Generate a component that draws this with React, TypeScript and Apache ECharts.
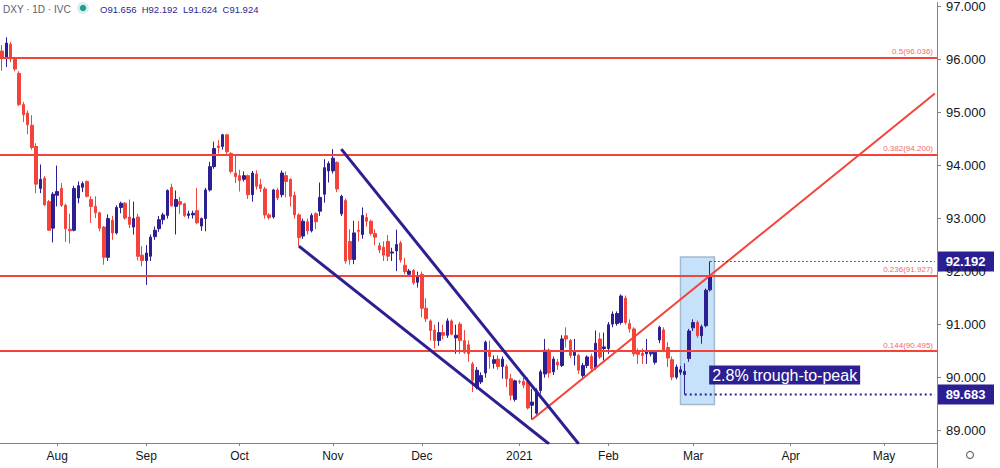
import React, { useEffect, useRef } from 'react';
import * as echarts from 'echarts';

// ---- data ----
const firstDay = '2020-07-15';
const dayCount = 221; // trading days shown on the axis (incl. empty future)

// [open, close, low, high]
const ohlc: number[][] = [
  [96.16, 96.03, 95.79, 96.27], [96.02, 96.31, 95.86, 96.42], [96.29, 96.01, 95.95, 96.33], [96.01, 95.82, 95.78, 96.05],
  [95.74, 95.15, 95.12, 95.78], [95.15, 94.96, 94.82, 95.2], [94.99, 94.77, 94.59, 95.04], [94.76, 94.34, 94.3, 94.95],
  [94.36, 93.65, 93.48, 94.42], [93.57, 93.74, 93.48, 94.02], [93.76, 93.26, 93.24, 93.8], [93.32, 92.78, 92.77, 93.35],
  [92.82, 93.46, 92.55, 93.5], [93.44, 93.51, 93.23, 94.0], [93.57, 93.25, 93.22, 93.67], [93.25, 92.81, 92.56, 93.28],
  [92.8, 92.77, 92.53, 93.09], [92.78, 93.57, 92.76, 93.62], [93.39, 93.62, 93.29, 93.7], [93.59, 93.66, 93.5, 93.7],
  [93.7, 93.42, 93.4, 93.72], [93.36, 93.23, 92.92, 93.42], [93.23, 93.11, 93.01, 93.42], [93.11, 92.82, 92.76, 93.13],
  [92.84, 92.27, 92.13, 92.86], [92.27, 93.0, 92.2, 93.08], [92.97, 92.73, 92.6, 93.05], [92.73, 93.21, 92.7, 93.25],
  [93.21, 93.29, 93.1, 93.32], [93.29, 93.01, 92.98, 93.31], [93.03, 92.89, 92.82, 93.36], [92.84, 93.0, 92.7, 93.32],
  [93.03, 92.29, 92.21, 93.09], [92.31, 92.21, 92.1, 92.48], [92.21, 92.35, 91.75, 92.5], [92.29, 92.65, 92.2, 92.7],
  [92.66, 92.78, 92.6, 92.85], [92.81, 92.98, 92.75, 93.05], [92.98, 93.07, 92.89, 93.11], [93.06, 93.53, 93.0, 93.55],
  [93.59, 93.24, 93.23, 93.66], [93.23, 93.36, 92.7, 93.53], [93.32, 93.27, 93.09, 93.41], [93.28, 93.06, 93.03, 93.3],
  [93.06, 93.09, 93.0, 93.15], [93.07, 93.1, 93.0, 93.15], [93.15, 92.92, 92.89, 93.58], [92.86, 93.0, 92.77, 93.02],
  [93.0, 93.54, 92.76, 93.58], [93.54, 93.98, 93.51, 94.07], [93.98, 94.32, 93.94, 94.45], [94.37, 94.34, 94.23, 94.48],
  [94.36, 94.58, 94.3, 94.6], [94.58, 94.26, 94.22, 94.6], [94.23, 93.89, 93.85, 94.25], [93.86, 93.79, 93.67, 94.2],
  [93.81, 93.72, 93.51, 93.92], [93.74, 93.81, 93.7, 93.89], [93.81, 93.45, 93.37, 93.83], [93.45, 93.86, 93.32, 93.9],
  [93.84, 93.61, 93.55, 93.91], [93.64, 93.57, 93.5, 93.75], [93.56, 93.07, 93.0, 93.6], [93.07, 93.02, 92.98, 93.1],
  [93.03, 93.54, 93.0, 93.56], [93.54, 93.39, 93.35, 93.58], [93.45, 93.86, 93.4, 93.91], [93.81, 93.7, 93.4, 93.89],
  [93.74, 93.42, 93.23, 93.76], [93.44, 93.07, 93.0, 93.51], [93.07, 92.64, 92.48, 93.1], [92.67, 92.95, 92.62, 93.0],
  [92.94, 92.77, 92.7, 93.0], [92.77, 93.06, 92.74, 93.1], [93.09, 92.94, 92.8, 93.12], [93.14, 93.4, 93.05, 93.68],
  [93.46, 93.96, 93.3, 94.12], [93.9, 94.04, 93.68, 94.08], [93.9, 94.14, 93.85, 94.31], [94.06, 93.56, 93.5, 94.08],
  [93.09, 93.42, 93.05, 93.45], [93.34, 92.2, 92.15, 93.38], [92.57, 92.23, 92.13, 92.8], [92.23, 92.73, 92.14, 92.96],
  [92.78, 92.76, 92.57, 92.95], [92.7, 93.06, 92.62, 93.21], [93.02, 92.95, 92.85, 93.1], [92.95, 92.72, 92.68, 92.98],
  [92.72, 92.65, 92.5, 92.8], [92.49, 92.41, 92.35, 92.55], [92.46, 92.31, 92.2, 92.57], [92.57, 92.29, 92.2, 92.69],
  [92.35, 92.37, 92.2, 92.45], [92.39, 92.51, 92.01, 92.79], [92.54, 92.22, 92.17, 92.58], [92.12, 92.0, 91.95, 92.26],
  [91.95, 92.01, 91.9, 92.05], [92.02, 91.79, 91.75, 92.05], [91.8, 91.9, 91.7, 92.0], [91.95, 91.31, 91.14, 92.0],
  [91.31, 91.11, 91.05, 91.5], [91.07, 90.89, 90.7, 91.1], [90.9, 90.7, 90.55, 91.0], [90.7, 90.85, 90.6, 91.05],
  [90.85, 90.8, 90.72, 91.0], [90.8, 91.07, 90.75, 91.12], [91.07, 90.82, 90.8, 91.1], [90.75, 90.8, 90.45, 91.0],
  [91.01, 90.7, 90.45, 91.05], [90.7, 90.48, 90.45, 90.9], [90.62, 90.45, 90.3, 90.7], [90.26, 89.95, 89.73, 90.3],
  [89.82, 90.14, 89.78, 90.2], [89.92, 90.04, 89.88, 90.1], [90.09, 90.67, 90.0, 90.7], [90.52, 90.4, 90.17, 90.7],
  [90.27, 90.34, 90.17, 90.42], [90.35, 90.21, 90.15, 90.42], [90.21, 90.35, 89.98, 90.4], [90.21, 89.98, 89.82, 90.25],
  [89.98, 89.67, 89.57, 90.07], [89.59, 89.94, 89.55, 89.96], [89.93, 89.92, 89.88, 89.96], [89.93, 89.86, 89.8, 90.0],
  [89.92, 89.43, 89.4, 90.0], [89.48, 89.54, 89.21, 89.79], [89.33, 89.76, 89.3, 89.8], [89.76, 90.11, 89.7, 90.15],
  [90.07, 90.52, 90.0, 90.73], [90.52, 90.09, 90.0, 90.55], [90.11, 90.35, 90.05, 90.4], [90.29, 90.24, 90.15, 90.35],
  [90.23, 90.73, 90.2, 90.8], [90.79, 90.73, 90.57, 90.95], [90.7, 90.42, 90.37, 90.73], [90.42, 90.48, 90.23, 90.73],
  [90.42, 90.14, 90.07, 90.45], [90.04, 90.23, 90.0, 90.28], [90.23, 90.39, 90.18, 90.42], [90.4, 90.17, 90.12, 90.45],
  [90.19, 90.65, 90.15, 90.89], [90.73, 90.39, 90.35, 90.85], [90.55, 90.58, 90.32, 90.85], [90.55, 91.0, 90.45, 91.05],
  [91.01, 91.2, 90.95, 91.25], [91.02, 91.21, 90.98, 91.25], [91.04, 91.54, 91.0, 91.57], [91.5, 91.04, 91.0, 91.55],
  [91.02, 90.92, 90.85, 91.1], [90.92, 90.45, 90.4, 90.95], [90.51, 90.44, 90.26, 90.55], [90.46, 90.42, 90.26, 90.55],
  [90.45, 90.49, 90.26, 90.73], [90.45, 90.48, 90.4, 90.52], [90.29, 90.48, 90.25, 90.52], [90.71, 90.95, 90.65, 90.98],
  [90.9, 90.51, 90.48, 90.95], [90.57, 90.37, 90.2, 90.67], [90.34, 90.01, 89.95, 90.4], [90.01, 90.2, 89.97, 90.25],
  [90.1, 90.15, 90.05, 90.22], [90.06, 90.12, 89.683, 90.27], [90.36, 90.88, 90.3, 90.92], [90.94, 91.04, 90.88, 91.1],
  [91.04, 90.79, 90.75, 91.08], [90.79, 90.96, 90.64, 91.0], [90.98, 91.65, 90.95, 91.68], [91.656, 91.924, 91.624, 92.192],
];

const tickDates = ['2020-08-03', '2020-09-01', '2020-10-01', '2020-11-02', '2020-12-01', '2021-01-01', '2021-02-01', '2021-03-01', '2021-04-01', '2021-05-03'];
const tickLabels = ['Aug', 'Sep', 'Oct', 'Nov', 'Dec', '2021', 'Feb', 'Mar', 'Apr', 'May'];

const fibRatios = ['0.5', '0.382', '0.236', '0.144'];
const fibLevels = [96.036, 94.2, 91.927, 90.495];

// drawn trend lines: [dateIndex, price]
const upTrend = [[125, 89.21], [220, 95.36]];
const wedgeUpper = [[80, 94.31], [136, 88.75]];
const wedgeLower = [[70, 92.48], [129, 88.75]];

const troughIdx = 161;
const troughPrice = 89.683;
const peakIdx = 167;
const peakPrice = 92.192;
const rangeBox = [[160, 92.275], [168, 89.494]];
const annotation = '2.8% trough-to-peak';
const header = { symbol: 'DXY · 1D · IVC', o: '91.656', h: '92.192', l: '91.624', c: '91.924' };

// ---- styles ----
const NAVY = '#2c1f92';
const RED = '#f4433a';
const AXIS = '#7f8089';
const TEXT = '#131722';

function buildDates(): string[] {
  const out: string[] = [];
  const [y, m, d] = firstDay.split('-').map(Number);
  const t = new Date(Date.UTC(y, m - 1, d));
  while (out.length < dayCount) {
    const wd = t.getUTCDay();
    if (wd !== 0 && wd !== 6) out.push(t.toISOString().slice(0, 10));
    t.setUTCDate(t.getUTCDate() + 1);
  }
  return out;
}

export default function App() {
  const ref = useRef<HTMLDivElement>(null);

  useEffect(() => {
    document.body.style.margin = '0';
    if (!ref.current) return;
    const chart = echarts.init(ref.current, null, { renderer: 'svg' });
    const dates = buildDates();
    const tickIdx = new Map<number, string>();
    tickDates.forEach((d, k) => tickIdx.set(dates.indexOf(d), tickLabels[k]));

    const lineSeries = (data: number[][], color: string, width: number, type: any = 'solid', z = 3, extra: any = {}) => ({
      type: 'line',
      data,
      symbol: 'none',
      silent: true,
      clip: true,
      z,
      lineStyle: { color, width, type },
      ...extra,
    });

    const option: any = {
      animation: false,
      backgroundColor: '#ffffff',
      grid: { left: 0, right: 63, top: 0, bottom: 25, containLabel: false },
      xAxis: {
        type: 'category',
        data: dates,
        boundaryGap: true,
        axisLine: { show: true, lineStyle: { color: AXIS, width: 1 } },
        axisTick: {
          show: true,
          alignWithLabel: true,
          length: 3,
          interval: (i: number) => tickIdx.has(i),
          lineStyle: { color: AXIS },
        },
        axisLabel: {
          interval: (i: number) => tickIdx.has(i),
          formatter: (_v: string, i: number) => tickIdx.get(i) ?? '',
          color: TEXT,
          fontFamily: 'Liberation Sans',
          fontSize: 12,
          margin: 7,
        },
        splitLine: { show: false },
      },
      yAxis: {
        type: 'value',
        position: 'right',
        min: 88.768,
        max: 97.075,
        splitNumber: 8,
        minInterval: 1,
        maxInterval: 1,
        scale: true,
        axisLine: { show: true, lineStyle: { color: AXIS, width: 1 } },
        axisTick: { show: true, length: 4, lineStyle: { color: AXIS } },
        axisLabel: {
          showMinLabel: false,
          showMaxLabel: false,
          formatter: (v: number) => (Math.abs(v - Math.round(v)) < 1e-6 ? v.toFixed(3) : ''),
          color: TEXT,
          fontFamily: 'Liberation Sans',
          fontSize: 13,
          margin: 9,
        },
        splitLine: { show: false },
      },
      series: [
        {
          type: 'candlestick',
          data: ohlc,
          barWidth: 3,
          z: 2,
          itemStyle: { color: NAVY, color0: RED, borderColor: NAVY, borderColor0: RED, borderWidth: 1 },
          markLine: {
            silent: true,
            symbol: ['none', 'none'],
            z: 4,
            lineStyle: { color: RED, width: 2, type: 'solid' },
            label: {
              show: true,
              position: 'insideEndTop',
              distance: [4, 2],
              color: '#f26a6a',
              fontFamily: 'Liberation Sans',
              fontSize: 8,
            },
            data: fibLevels.map((v, k) => ({
              yAxis: v,
              label: { formatter: `${fibRatios[k]}(${v.toFixed(3)})` },
            })),
          },
        },
        lineSeries(upTrend, RED, 2, 'solid', 5),
        lineSeries(wedgeUpper, NAVY, 3, 'solid', 5),
        lineSeries(wedgeLower, NAVY, 3, 'solid', 5),
        lineSeries([[peakIdx, peakPrice], [dayCount - 1, peakPrice]], NAVY, 1, [1.5, 2.5], 6),
        lineSeries([[troughIdx, troughPrice], [dayCount - 1, troughPrice]], NAVY, 2, [2, 3], 7, {
          markArea: {
            silent: true,
            itemStyle: { color: 'rgba(120, 185, 242, 0.42)', borderColor: '#a3b9cc', borderWidth: 1.5 },
            data: [[{ coord: rangeBox[0] }, { coord: rangeBox[1] }]],
          },
        }),
      ],
    };
    chart.setOption(option);

    const py = (v: number) => chart.convertToPixel({ yAxisIndex: 0 }, v) as number;
    const px = (i: number) => chart.convertToPixel({ xAxisIndex: 0 }, dates[i]) as number;
    const axisX = 1000 - 63;

    const tag = (v: number) => ({
      type: 'group',
      children: [
        { type: 'rect', shape: { x: axisX, y: py(v) - 10, width: 57, height: 20 }, style: { fill: NAVY } },
        {
          type: 'text',
          x: axisX + 28.5,
          y: py(v) + 0.5,
          style: { text: v.toFixed(3), fill: '#ffffff', font: 'bold 13px "Liberation Sans"', align: 'center', verticalAlign: 'middle' },
        },
      ],
    });

    chart.setOption({
      graphic: [
        { type: 'line', shape: { x1: axisX + 0.5, y1: 443, x2: axisX + 0.5, y2: 468 }, style: { stroke: AXIS, lineWidth: 1 } },
        tag(peakPrice),
        tag(troughPrice),
        {
          type: 'text',
          x: px(peakIdx) - 1,
          y: py(90.05),
          z: 20,
          style: {
            text: annotation,
            fill: '#ffffff',
            font: '16px "Liberation Sans"',
            verticalAlign: 'middle',
            backgroundColor: NAVY,
            padding: [2, 3, 1, 3],
          },
        },
        {
          type: 'text',
          x: 3,
          y: 9,
          style: { text: header.symbol, fill: '#5d606b', font: '10px "Liberation Sans"', verticalAlign: 'middle' },
        },
        { type: 'circle', shape: { cx: 83, cy: 8, r: 6 }, style: { fill: 'rgba(38,166,154,0.18)' } },
        { type: 'circle', shape: { cx: 83, cy: 8, r: 3.2 }, style: { fill: '#1f9e8f' } },
        {
          type: 'text',
          x: 100,
          y: 9,
          style: {
            text: `O${header.o}  H${header.h}  L${header.l}  C${header.c}`,
            fill: NAVY,
            font: '9.5px "Liberation Sans"',
            verticalAlign: 'middle',
          },
        },
        { type: 'circle', shape: { cx: 970, cy: 455, r: 3.5 }, style: { fill: 'none', stroke: '#6a6d78', lineWidth: 1.2 } },
      ],
    });

    return () => chart.dispose();
  }, []);

  return <div ref={ref} style={{ width: 1000, height: 468 }} />;
}
